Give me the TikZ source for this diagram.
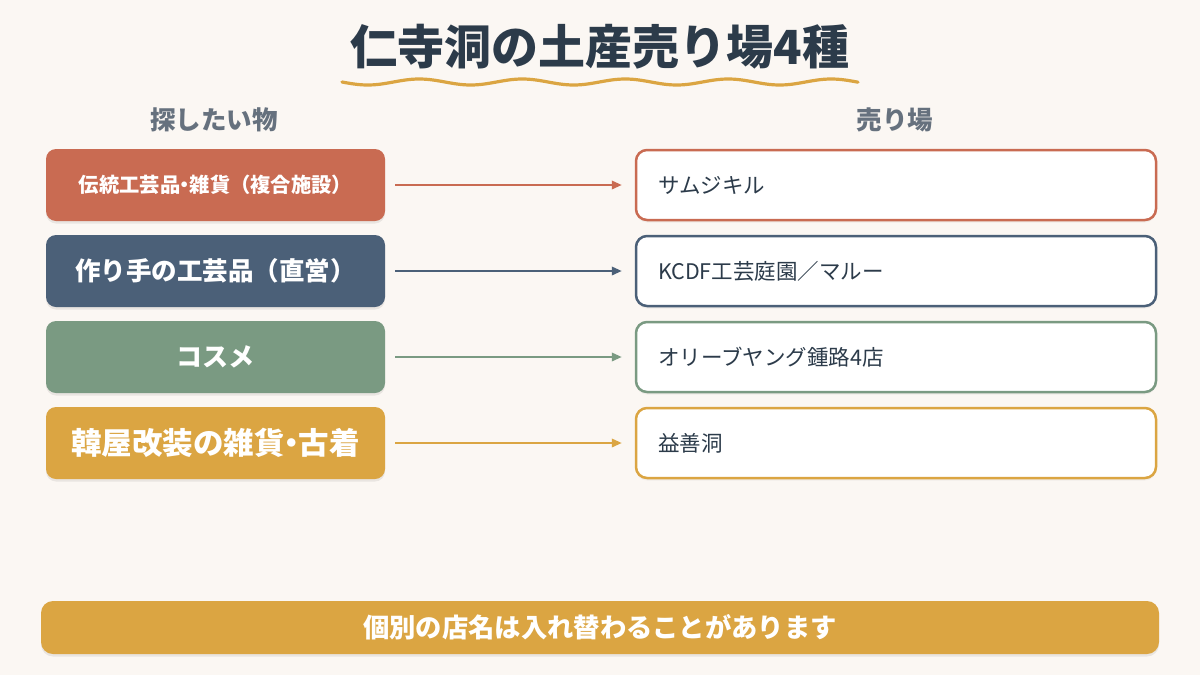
\documentclass[tikz,border=0pt]{standalone}
\usepackage{fontspec}
\setmainfont{Noto Sans CJK JP}
\usetikzlibrary{arrows.meta,shadows}
\definecolor{paper}{HTML}{FBF7F3}
\definecolor{ink}{HTML}{2C3B4A}
\definecolor{muted}{HTML}{66717E}
\definecolor{terra}{HTML}{C96B52}
\definecolor{slate}{HTML}{4B6078}
\definecolor{sage}{HTML}{7A9A82}
\definecolor{gold}{HTML}{DBA542}
% narrow middle dot, as in the reference
\newcommand\nakadot{\kern-.27em・\kern-.27em}
\tikzset{
  title/.style={
    font=\bfseries\fontsize{47}{52}\selectfont,
    text=ink,
    inner sep=0pt
  },
  colhead/.style={
    font=\bfseries\fontsize{25.5}{28}\selectfont,
    text=muted,
    inner sep=0pt
  },
  soft shadow/.style={
    drop shadow={shadow xshift=0pt,shadow yshift=-2.5pt,fill=black,opacity=#1}
  },
  want/.style={
    rounded corners=10pt,
    minimum width=339pt,
    minimum height=72pt,
    inner sep=0pt,
    text=white,
    align=center,
    soft shadow=.07
  },
  shop/.style={
    draw,
    fill=white,
    line width=2.5pt,
    rounded corners=11pt,
    minimum width=520pt,
    minimum height=70pt,
    inner xsep=22pt,
    inner ysep=0pt,
    text width=476pt,
    align=left,
    text=ink,
    font=\fontsize{21.5}{26}\selectfont,
    soft shadow=.04
  },
  flow/.style={
    -{Triangle[length=10pt,width=8.5pt]},
    line width=2pt,
    shorten <=10pt,
    shorten >=13pt
  },
  notebar/.style={
    fill=gold,
    rounded corners=12pt,
    minimum width=1118pt,
    minimum height=53pt,
    inner sep=0pt,
    text=white,
    font=\bfseries\fontsize{26.3}{30}\selectfont,
    soft shadow=.07
  }
}

\begin{document}
\begin{tikzpicture}[x=1pt,y=-1pt]
  \fill[paper] (0,0) rectangle (1200,675);
  \useasboundingbox (0,0) rectangle (1200,675);

  \node[title] (title) at (600,47) {仁寺洞の土産売り場4種};
  \draw[gold,line width=3.2pt,line cap=round]
    plot[domain=342:858,samples=150,smooth]
      (\x,{82+3*sin((\x-342)/103*360)});

  \node[colhead] (hwant) at (214,120) {探したい物};
  \node[colhead] (hshop) at (895,120) {売り場};

  \node[want,fill=terra,font=\bfseries\fontsize{20.3}{24}\selectfont]
    (want1) at (215.5,185) {伝統工芸品\nakadot 雑貨（複合施設）};
  \node[want,fill=slate,font=\bfseries\fontsize{25.5}{28}\selectfont]
    (want2) at (215.5,271) {作り手の工芸品（直営）};
  \node[want,fill=sage,font=\bfseries\fontsize{26}{30}\selectfont]
    (want3) at (215.5,357) {コスメ};
  \node[want,fill=gold,font=\bfseries\fontsize{30.5}{34}\selectfont]
    (want4) at (215.5,443) {韓屋改装の雑貨\nakadot 古着};

  \node[shop,draw=terra] (shop1) at (896,185) {サムジキル};
  \node[shop,draw=slate] (shop2) at (896,271) {KCDF工芸庭園／マルー};
  \node[shop,draw=sage]  (shop3) at (896,357) {オリーブヤング鍾路4店};
  \node[shop,draw=gold]  (shop4) at (896,443) {益善洞};

  \draw[flow,terra] (want1) -- (shop1);
  \draw[flow,slate] (want2) -- (shop2);
  \draw[flow,sage]  (want3) -- (shop3);
  \draw[flow,gold]  (want4) -- (shop4);

  \node[notebar] (note) at (600,627.5) {個別の店名は入れ替わることがあります};
\end{tikzpicture}
\end{document}
